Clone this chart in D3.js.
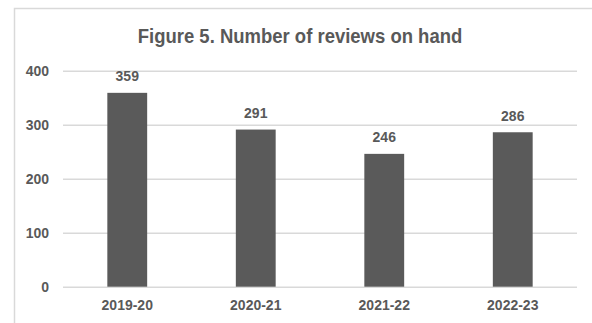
<!DOCTYPE html>
<html>
<head>
<meta charset="utf-8">
<script src="https://cdn.jsdelivr.net/npm/d3@7"></script>
<style>
  html, body { margin: 0; padding: 0; background: #fff; }
  svg { display: block; font-family: "Liberation Sans", Arial, sans-serif; }
</style>
</head>
<body>
<div id="chart"></div>
<script>
const TITLE = "Figure 5. Number of reviews on hand";
const YEARS = ["2019-20", "2020-21", "2021-22", "2022-23"];
const REVIEWS = [359, 291, 246, 286];
const Y_TICKS = [0, 100, 200, 300, 400];

const WIDTH = 592;
const HEIGHT = 323;
const PLOT = { left: 63, right: 577, top: 70.7, bottom: 286.7 };
const TEXT_COLOR = "#595959";
const BAR_COLOR = "#5a5a5a";
const GRID_COLOR = "#d9d9d9";
const STRETCH = 1.1; // glyphs in the picture are a bit taller than wide

const svg = d3
  .select("#chart")
  .append("svg")
  .attr("width", WIDTH)
  .attr("height", HEIGHT)
  .attr("viewBox", [0, 0, WIDTH, HEIGHT]);

svg.append("rect")
  .attr("width", WIDTH)
  .attr("height", HEIGHT)
  .attr("fill", "#fff");

// chart frame (right and bottom edges run off the picture)
svg.append("rect")
  .attr("x", 14.5)
  .attr("y", 8.5)
  .attr("width", WIDTH + 20)
  .attr("height", HEIGHT + 20)
  .attr("fill", "none")
  .attr("stroke", GRID_COLOR)
  .attr("stroke-width", 1.5);

const x = d3
  .scaleBand()
  .domain(YEARS)
  .range([PLOT.left, PLOT.right])
  .paddingInner(0.69)
  .paddingOuter(0.345);

const y = d3
  .scaleLinear()
  .domain([0, 400])
  .range([PLOT.bottom, PLOT.top]);

// y axis + gridlines
const gy = svg
  .append("g")
  .attr("transform", `translate(${PLOT.left},0)`)
  .call(
    d3.axisLeft(y)
      .tickValues(Y_TICKS)
      .tickSize(-(PLOT.right - PLOT.left))
      .tickPadding(14)
      .tickFormat(d3.format("d"))
  );
gy.select(".domain").remove();
gy.selectAll(".tick line")
  .attr("stroke", GRID_COLOR)
  .attr("stroke-width", 1.5);
gy.selectAll(".tick text")
  .attr("fill", TEXT_COLOR)
  .attr("font-size", 14)
  .attr("font-weight", "bold")
  .attr("font-family", "Liberation Sans, Arial, sans-serif")
  .attr("dy", "0.28em")
  .attr("transform", `scale(1,${STRETCH})`);

// bars
svg
  .append("g")
  .selectAll("rect")
  .data(YEARS)
  .join("rect")
  .attr("x", (d) => x(d))
  .attr("y", (d, i) => y(REVIEWS[i]))
  .attr("width", x.bandwidth())
  .attr("height", (d, i) => y(0) - y(REVIEWS[i]))
  .attr("fill", BAR_COLOR);

// value labels
svg
  .append("g")
  .selectAll("text")
  .data(YEARS)
  .join("text")
  .attr(
    "transform",
    (d, i) =>
      `translate(${x(d) + x.bandwidth() / 2},${y(REVIEWS[i]) - 11.5}) scale(1,${STRETCH})`
  )
  .attr("text-anchor", "middle")
  .attr("font-size", 14)
  .attr("font-weight", "bold")
  .attr("fill", TEXT_COLOR)
  .text((d, i) => REVIEWS[i]);

// x axis labels
const gx = svg
  .append("g")
  .attr("transform", `translate(0,${PLOT.bottom})`)
  .call(d3.axisBottom(x).tickSize(0).tickPadding(0));
gx.select(".domain").remove();
gx.selectAll(".tick text")
  .attr("fill", TEXT_COLOR)
  .attr("font-size", 14)
  .attr("font-weight", "bold")
  .attr("font-family", "Liberation Sans, Arial, sans-serif")
  .attr("y", 0)
  .attr("dy", 0)
  .attr("transform", `translate(0,23.5) scale(1,${STRETCH})`);

// title
svg.append("text")
  .attr("transform", `translate(300,42.5) scale(1,1.13)`)
  .attr("text-anchor", "middle")
  .attr("font-size", 18.5)
  .attr("font-weight", "bold")
  .attr("fill", TEXT_COLOR)
  .text(TITLE);
</script>
</body>
</html>
